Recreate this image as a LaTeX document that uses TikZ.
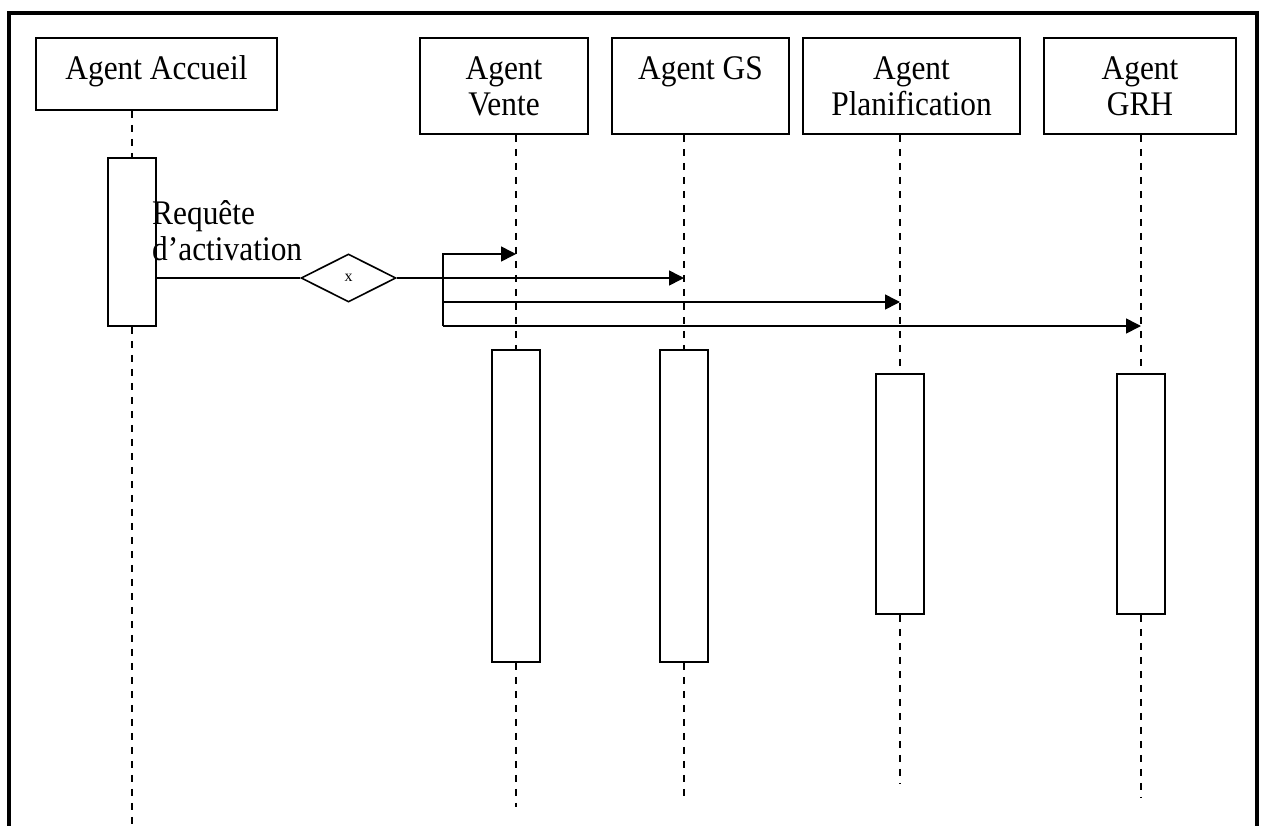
\documentclass[tikz,border=0pt]{standalone}
\usepackage{fontspec}
\setmainfont{Liberation Serif}
\newfontfamily\tallfont[FakeStretch=0.91]{Liberation Serif}
\usetikzlibrary{arrows.meta,shapes.geometric}
\begin{document}
\begin{tikzpicture}[x=1pt,y=-1pt,
  hdr/.style={draw,line width=1.8pt,inner sep=0pt,minimum height=#1},
  lbl/.style={inner sep=0pt,anchor=north,align=center,font=\tallfont\fontsize{34.5pt}{36pt}\selectfont},
  actbox/.style={draw,line width=1.5pt,fill=white,inner sep=0pt,minimum width=48pt,minimum height=#1},
  life/.style={line width=1.4pt,dash pattern=on 7pt off 7pt},
  msg/.style={line width=1.6pt,-{Triangle[length=15pt,width=15pt]}},
  plain/.style={line width=1.6pt},
  frame/.style={line width=3.2pt}]
\useasboundingbox (0,0) rectangle (1264,825);
\draw[frame] (9,850) -- (9,13) -- (1257,13) -- (1257,850);

% headers
\node[hdr=72pt,minimum width=241pt] (acc) at (156.5,74) {};
\node[hdr=96pt,minimum width=168pt] (ven) at (504,86) {};
\node[hdr=96pt,minimum width=177pt] (gs) at (700.5,86) {};
\node[hdr=96pt,minimum width=217pt] (pla) at (911.5,86) {};
\node[hdr=96pt,minimum width=192pt] (grh) at (1140,86) {};

\node[lbl] (tacc) at (156.5,54) {\rule{0pt}{25pt}Agent Accueil};
\node[lbl] (tven) at (504,54) {\rule{0pt}{25pt}Agent\\Vente};
\node[lbl] (tgs) at (700.5,54) {\rule{0pt}{25pt}Agent GS};
\node[lbl] (tpla) at (911.5,54) {\rule{0pt}{25pt}Agent\\Planification};
\node[lbl] (tgrh) at (1140,54) {\rule{0pt}{25pt}Agent\\GRH};

% activation boxes
\node[actbox=168pt] (aA) at (132,242) {};
\node[actbox=312pt] (aV) at (516,506) {};
\node[actbox=312pt] (aG) at (684,506) {};
\node[actbox=240pt] (aP) at (900,494) {};
\node[actbox=240pt] (aR) at (1141,494) {};

% lifeline ends
\coordinate (eA) at (132,850);
\coordinate (eV) at (516,807);
\coordinate (eG) at (684,798);
\coordinate (eP) at (900,783);
\coordinate (eR) at (1141,798);

\draw[life] (acc.south -| aA.north) -- (aA.north);
\draw[life] (aA.south) -- (eA);
\draw[life] (ven.south -| aV.north) -- (aV.north);
\draw[life] (aV.south) -- (eV);
\draw[life] (gs.south -| aG.north) -- (aG.north);
\draw[life] (aG.south) -- (eG);
\draw[life] (pla.south -| aP.north) -- (aP.north);
\draw[life] (aP.south) -- (eP);
\draw[life] (grh.south -| aR.north) -- (aR.north);
\draw[life] (aR.south) -- (eR);

% request label
\node[inner sep=0pt,anchor=base west,font=\tallfont\fontsize{34.5pt}{36pt}\selectfont] (req1) at (152,224) {Requête};
\node[inner sep=0pt,anchor=base west,font=\tallfont\fontsize{34.5pt}{36pt}\selectfont] (req2) at (152,260) {d’activation};

% decision diamond
\node[diamond,draw,line width=1.6pt,minimum width=95pt,minimum height=48pt,inner sep=0pt,font=\fontsize{16pt}{18pt}\selectfont] (dia) at (348.5,278) {x};

\coordinate (f1) at (443,254);
\coordinate (f3) at (443,302);
\coordinate (f4) at (443,326);
\coordinate (tV) at (516,254);
\coordinate (tG) at (684,278);
\coordinate (tP) at (900,302);
\coordinate (tR) at (1141,326);

\draw[plain] (aA.east |- dia.west) -- (dia.west);
\draw[msg] (dia.east) -- (tG);
\draw[msg] (f4) -- (f1) -- (tV);
\draw[msg] (f3) -- (tP);
\draw[msg] (f4) -- (tR);
\end{tikzpicture}
\end{document}
